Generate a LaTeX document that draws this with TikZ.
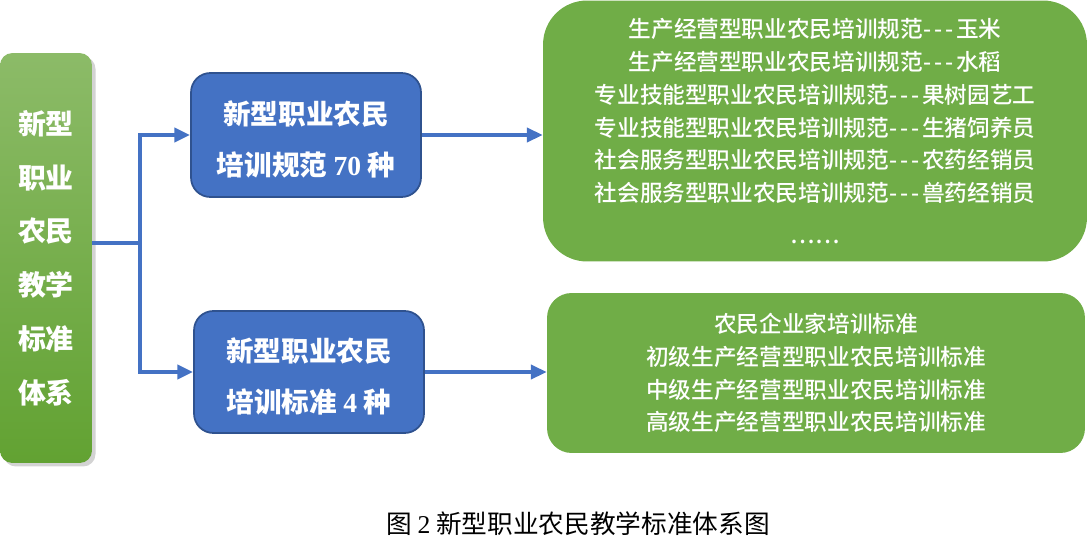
\documentclass[tikz,border=0pt]{standalone}
\usepackage{fontspec}
\setmainfont{Liberation Serif}
\newfontfamily\cjk{Noto Sans CJK SC}
\newfontfamily\cjkmed{Noto Sans CJK SC Medium}
\usepackage{xcolor}
\usetikzlibrary{positioning, arrows.meta, shadows}

\definecolor{boxblue}{HTML}{4472C4}
\definecolor{edgeblue}{HTML}{2F528F}
\definecolor{leafgreen}{HTML}{70AD47}
\definecolor{topgreen}{HTML}{8CBB68}
\definecolor{botgreen}{HTML}{62A232}

\newcommand{\dashes}{-\kern1.6pt-\kern1.6pt-\kern1.6pt}

\begin{document}
\begin{tikzpicture}[x=0.02cm, y=-0.02cm,
    link/.style={-{Triangle[length=9pt,width=8pt]}, line width=2.2pt, boxblue},
    bluebox/.style={rectangle, rounded corners=11pt, fill=boxblue, draw=edgeblue,
      line width=1pt, text=white, align=center, minimum width=4.6cm,
      font=\cjk\bfseries\fontsize{15.7}{29.5}\selectfont},
    listbox/.style={rectangle, fill=leafgreen, text=white, align=center,
      font=\cjkmed\fontsize{12.9}{18.7}\selectfont}]
  \useasboundingbox (0,0) rectangle (1088,544);
  % root
  \node[rectangle, rounded corners=7pt, top color=topgreen, bottom color=botgreen,
        minimum width=1.84cm, minimum height=8.2cm, text=white, align=center,
        drop shadow={opacity=0.35, shadow xshift=2pt, shadow yshift=-2pt},
        font=\cjk\bfseries\fontsize{15.9}{30.6}\selectfont]
    (root) at (46,258) {新型\\职业\\农民\\教学\\标准\\体系};
  % middle level
  \node[bluebox, minimum height=2.48cm, text height=48pt] (spec) at (306,135)
    {新型职业农民\\培训规范 {\rmfamily 70} 种};
  \node[bluebox, minimum height=2.44cm, text height=48pt] (std) at (309,372)
    {新型职业农民\\培训标准 {\rmfamily 4} 种};
  % lists
  \node[listbox, rounded corners=25pt, minimum width=10.88cm, minimum height=5.22cm]
    (speclist) at (815,131)
    {生产经营型职业农民培训规范\dashes 玉米\\
     生产经营型职业农民培训规范\dashes 水稻\\
     专业技能型职业农民培训规范\dashes 果树园艺工\\
     专业技能型职业农民培训规范\dashes 生猪饲养员\\
     社会服务型职业农民培训规范\dashes 农药经销员\\
     社会服务型职业农民培训规范\dashes 兽药经销员\\[5pt]
     ……};
  \node[listbox, rounded corners=14pt, minimum width=10.76cm, minimum height=3.2cm]
    (stdlist) at (816,373)
    {农民企业家培训标准\\
     初级生产经营型职业农民培训标准\\
     中级生产经营型职业农民培训标准\\
     高级生产经营型职业农民培训标准};
  % connectors
  \coordinate (fork) at (140,243);
  \draw[line width=2.2pt, boxblue] (fork -| root.east) -- (fork);
  \draw[link] (fork) |- (spec.west);
  \draw[link] (fork) |- (std.west);
  \draw[link] (spec.east) -- (spec.east -| speclist.west);
  \draw[link] (std.east) -- (std.east -| stdlist.west);
  % caption
  \node[font=\cjk\fontsize{14.6}{16}\selectfont] (caption) at (578,524)
    {图 {\rmfamily 2} 新型职业农民教学标准体系图};
\end{tikzpicture}
\end{document}
